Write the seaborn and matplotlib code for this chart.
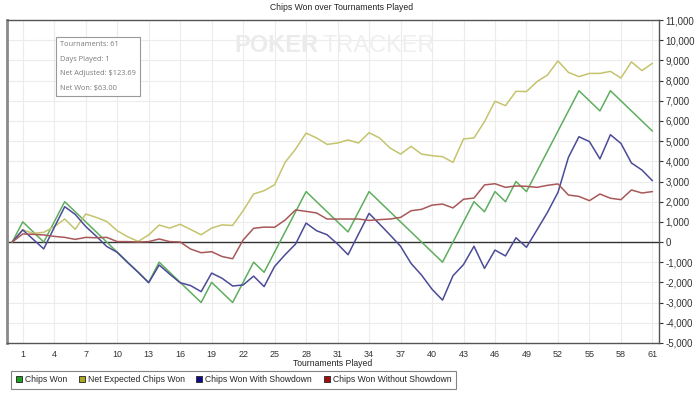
import pandas as pd
import numpy as np
import matplotlib
matplotlib.use('Agg')
import matplotlib.pyplot as plt
from matplotlib.lines import Line2D
from matplotlib.ticker import FuncFormatter
import seaborn as sns

# tournament index 0..61
tournaments = list(range(62))

chips_won = [0, 1000, 500, 0, 1000, 2000, 1500, 1000, 500, 0,
             -500, -1000, -1500, -2000, -1000, -1500, -2000, -2500, -3000, -2000,
             -2500, -3000, -2000, -1000, -1500, -500, 500, 1500, 2500, 2000,
             1500, 1000, 500, 1500, 2500, 2000, 1500, 1000, 500, 0,
             -500, -1000, 0, 1000, 2000, 1500, 2500, 2000, 3000, 2500,
             3500, 4500, 5500, 6500, 7500, 7000, 6500, 7500, 7000, 6500,
             6000, 5500]

net_expected = [0, 600, 430, 480, 760, 1140, 630, 1390, 1220, 1020,
                560, 260, 30, 350, 840, 690, 880, 620, 360, 690,
                850, 820, 1550, 2380, 2545, 2840, 3950, 4610, 5400, 5160,
                4840, 4910, 5060, 4910, 5420, 5160, 4660, 4360, 4740, 4360,
                4280, 4230, 3950, 5110, 5160, 5970, 6980, 6760, 7470, 7460,
                7950, 8280, 8980, 8410, 8200, 8360, 8360, 8460, 8130, 8930,
                8500, 8860]

with_showdown = [0, 600, 130, -340, 720, 1750, 1370, 770, 290, -220,
                 -510, -1020, -1500, -2020, -1140, -1590, -2020, -2160, -2460, -1540,
                 -1800, -2180, -2130, -1690, -2210, -1210, -630, -100, 940, 560,
                 360, -100, -630, 400, 1420, 890, 350, -210, -1060, -1640,
                 -2340, -2880, -1670, -1120, -210, -1310, -400, -690, 210, -260,
                 600, 1470, 2460, 4200, 5220, 4980, 4120, 5320, 4890, 3920,
                 3570, 3040]

without_showdown = [0, 400, 380, 350, 280, 230, 130, 230, 210, 230,
                    20, 20, 0, 20, 150, 20, 0, -350, -530, -480,
                    -720, -830, 100, 680, 740, 730, 1090, 1590, 1520, 1440,
                    1140, 1140, 1140, 1140, 1070, 1110, 1140, 1220, 1550, 1620,
                    1830, 1880, 1690, 2120, 2180, 2830, 2890, 2710, 2780, 2760,
                    2710, 2810, 2880, 2330, 2260, 2050, 2380, 2170, 2100, 2580,
                    2430, 2500]

series_names = ['Chips Won', 'Net Expected Chips Won',
                'Chips Won With Showdown', 'Chips Won Without Showdown']
line_colors = ['#5fae5f', '#c4c46e', '#4b4b98', '#a85858']
legend_colors = ['#1f9e1f', '#a8a823', '#0b0b8a', '#a30d0d']

x_ticks = list(range(1, 62, 3))
y_ticks = list(range(-5000, 11001, 1000))

df = pd.DataFrame({
    'Tournaments': tournaments * 4,
    'Chips': chips_won + net_expected + with_showdown + without_showdown,
    'Series': np.repeat(series_names, len(tournaments)),
})

sns.set_style('white')
plt.rcParams['font.family'] = ['Liberation Sans', 'DejaVu Sans']

fig = plt.figure(figsize=(7, 3.95), dpi=100)
ax = fig.add_axes([0.01, 0.132, 0.931, 0.817])

sns.lineplot(data=df, x='Tournaments', y='Chips', hue='Series',
             hue_order=series_names, palette=line_colors, linewidth=1.1,
             legend=False, ax=ax)

ax.axhline(0, color='#333333', linewidth=1.0, zorder=1)

ax.set_xlim(-0.5, 61.6)
ax.set_ylim(-5000, 11000)
ax.set_xticks(x_ticks)
ax.set_yticks(y_ticks)
ax.yaxis.tick_right()
ax.yaxis.set_major_formatter(FuncFormatter(lambda v, p: f'{int(v):,}'))
ax.tick_params(axis='y', labelsize=7, colors='#333333', length=3, width=0.8, pad=2)
ax.tick_params(axis='x', labelsize=6.5, colors='#333333', length=3, width=0.8, pad=2)
ax.grid(True, color='#ececec', linewidth=0.8)
ax.set_axisbelow(True)
ax.set_xlabel('Tournaments Played', fontsize=6.2, color='#222222', labelpad=0.5)
ax.set_ylabel('')

for side in ['top', 'bottom', 'right']:
    ax.spines[side].set_color('#555555')
    ax.spines[side].set_linewidth(1.0)
ax.spines['left'].set_color('#8a8a8a')
ax.spines['left'].set_linewidth(2.0)

fig.text(0.4886, 0.982, 'Chips Won over Tournaments Played', ha='center', va='center',
         fontsize=6.2, color='#222222')

# watermark
ax.text(0.349, 0.92, 'POKER', transform=ax.transAxes, fontsize=17, fontweight='bold',
        color='#ebebeb', ha='left', va='center', zorder=0)
ax.text(0.484, 0.92, 'TRACKER', transform=ax.transAxes, fontsize=17,
        color='#efefef', ha='left', va='center', zorder=0)

# info box
info = 'Tournaments: 61\nDays Played: 1\nNet Adjusted: $123.69\nNet Won: $63.00'
ax.text(0.081, 0.935, info, transform=ax.transAxes, fontsize=5.3, color='#7a7a7a',
        ha='left', va='top', linespacing=2.5, family=['Open Sans', 'DejaVu Sans'],
        bbox=dict(boxstyle='square,pad=0.55', facecolor='white', edgecolor='#9a9a9a',
                  linewidth=0.8))

handles = [Line2D([0], [0], marker='s', linestyle='none', markersize=4.5,
                  markerfacecolor=c, markeredgecolor='#222222', markeredgewidth=0.6)
           for c in legend_colors]
leg = fig.legend(handles, series_names, loc='lower left', bbox_to_anchor=(0.009, 0.004),
                 ncol=4, fontsize=6.2, frameon=True, fancybox=False, handletextpad=0.3,
                 columnspacing=1.3, borderpad=0.55, handlelength=0.8)
leg.get_frame().set_edgecolor('#666666')
leg.get_frame().set_linewidth(0.8)

fig.savefig('out.png', dpi=100)
